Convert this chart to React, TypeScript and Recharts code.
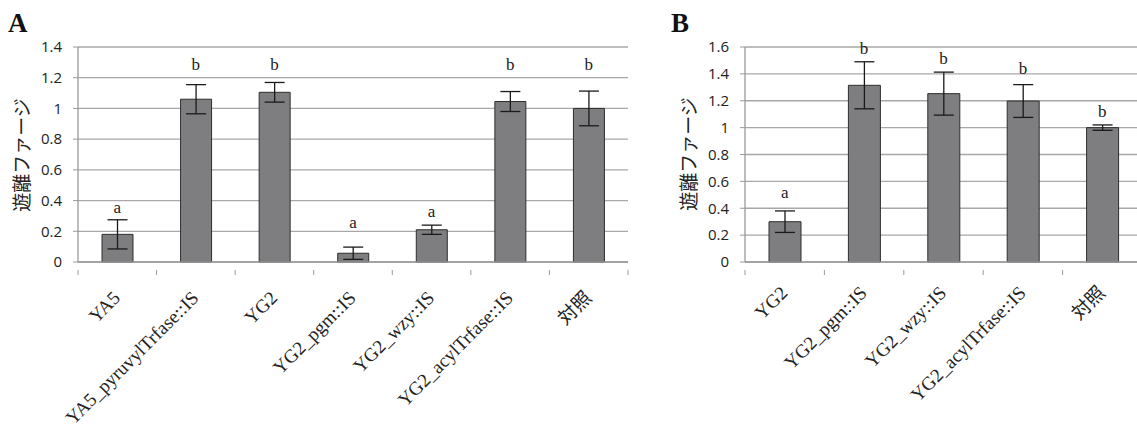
import React from 'react';
import { ComposedChart, Bar, ErrorBar, Scatter, XAxis, YAxis, CartesianGrid } from 'recharts';

const catsA = ['YA5', 'YA5_pyruvylTrfase::IS', 'YG2', 'YG2_pgm::IS', 'YG2_wzy::IS', 'YG2_acylTrfase::IS', '対照'];
const valsA = [0.18, 1.06, 1.105, 0.057, 0.21, 1.045, 1.0];
const errA = [0.095, 0.095, 0.064, 0.04, 0.03, 0.065, 0.113];
const lettersA = ['a', 'b', 'b', 'a', 'a', 'b', 'b'];
const letterYA = [0.32, 1.25, 1.25, 0.22, 0.29, 1.25, 1.25];
const ticksA = [0, 0.2, 0.4, 0.6, 0.8, 1, 1.2, 1.4];

const catsB = ['YG2', 'YG2_pgm::IS', 'YG2_wzy::IS', 'YG2_acylTrfase::IS', '対照'];
const valsB = [0.3, 1.315, 1.253, 1.198, 1.0];
const errB = [0.08, 0.175, 0.16, 0.122, 0.02];
const lettersB = ['a', 'b', 'b', 'b', 'b'];
const letterYB = [0.48, 1.55, 1.475, 1.4, 1.08];
const ticksB = [0, 0.2, 0.4, 0.6, 0.8, 1, 1.2, 1.4, 1.6];

const dataA = catsA.map((c, i) => ({ name: c, v: valsA[i], e: errA[i], l: lettersA[i], ly: letterYA[i] }));
const dataB = catsB.map((c, i) => ({ name: c, v: valsB[i], e: errB[i], l: lettersB[i], ly: letterYB[i] }));

const AXIS = '#9a9a9a';
const GRID = '#a8a8a8';

const makeTick = (bw: number, n: number, dx: number, dy: number) => (props: any) => {
  const { x, y, payload, index } = props;
  const tx = x + dx;
  const ty = y + dy;
  return (
    <g>
      <line x1={x - bw / 2} x2={x - bw / 2} y1={y} y2={y + 5} stroke={AXIS} />
      {index === n - 1 && <line x1={x + bw / 2} x2={x + bw / 2} y1={y} y2={y + 5} stroke={AXIS} />}
      <text
        x={tx}
        y={ty}
        transform={`rotate(-45, ${tx}, ${ty})`}
        textAnchor="end"
        fontFamily="'Liberation Serif', 'Noto Sans CJK JP', serif"
        fontSize={19}
        fill="#222"
      >
        {payload.value}
      </text>
    </g>
  );
};

const LetterShape = (props: any) => {
  const { cx, cy, payload } = props;
  return (
    <text x={cx} y={cy} textAnchor="middle" fontFamily="'Liberation Serif', serif" fontSize={17} fill="#222">
      {payload.l}
    </text>
  );
};

const fmt = (v: number) => String(Math.round(v * 10) / 10);

function Panel(props: {
  data: any[];
  width: number;
  marginLeft: number;
  marginRight: number;
  domainMax: number;
  ticks: number[];
  barSize: number;
  dx: number;
  dy: number;
}) {
  const { data, width, marginLeft, marginRight, domainMax, ticks, barSize, dx, dy } = props;
  const yW = 60;
  const plotW = width - marginLeft - marginRight - yW;
  const bw = plotW / data.length;
  return (
    <ComposedChart
      width={width}
      height={430}
      data={data}
      margin={{ top: 47, right: marginRight, bottom: 18, left: marginLeft }}
      barCategoryGap={0}
    >
      <CartesianGrid vertical={false} stroke={GRID} strokeWidth={1.3} />
      <XAxis
        dataKey="name"
        height={150}
        tickLine={false}
        axisLine={{ stroke: AXIS, strokeWidth: 1.3 }}
        interval={0}
        tick={makeTick(bw, data.length, dx, dy)}
      />
      <YAxis
        width={yW}
        domain={[0, domainMax]}
        ticks={ticks}
        interval={0}
        tickFormatter={fmt}
        tickSize={5}
        tickMargin={11}
        tickLine={{ stroke: AXIS }}
        axisLine={{ stroke: AXIS, strokeWidth: 1.3 }}
        tick={{ fontFamily: "'Open Sans', sans-serif", fontSize: 15, fill: '#222' }}
      />
      <Bar dataKey="v" fill="#7e7e80" stroke="#2e2e2e" strokeWidth={1} barSize={barSize} isAnimationActive={false}>
        <ErrorBar dataKey="e" width={10} stroke="#1a1a1a" strokeWidth={1.3} />
      </Bar>
      <Scatter dataKey="ly" shape={<LetterShape />} isAnimationActive={false} />
    </ComposedChart>
  );
}

const yLabelStyle: React.CSSProperties = {
  position: 'absolute',
  fontFamily: "'Noto Sans CJK JP', sans-serif",
  fontSize: 19,
  color: '#222',
  whiteSpace: 'nowrap',
  transform: 'translate(-50%, -50%) rotate(-90deg)',
  lineHeight: 1,
};

const panelLetter: React.CSSProperties = {
  position: 'absolute',
  fontFamily: "'Liberation Serif', serif",
  fontWeight: 'bold',
  fontSize: 27,
  color: '#111',
  lineHeight: 1,
};

export default function App() {
  return (
    <div style={{ position: 'absolute', left: 0, top: 0, width: 1137, height: 430, overflow: 'hidden', background: '#fff' }}>
      <div style={{ position: 'absolute', left: 0, top: 0 }}>
        <Panel data={dataA} width={640} marginLeft={18} marginRight={12} domainMax={1.4} ticks={ticksA} barSize={31} dx={4} dy={29} />
      </div>
      <div style={{ position: 'absolute', left: 640, top: 0 }}>
        <Panel data={dataB} width={502} marginLeft={45} marginRight={0} domainMax={1.6} ticks={ticksB} barSize={32} dx={4} dy={24} />
      </div>
      <div style={{ ...panelLetter, left: 8, top: 10 }}>A</div>
      <div style={{ ...panelLetter, left: 671, top: 10 }}>B</div>
      <div style={{ ...yLabelStyle, left: 20, top: 155 }}>遊離ファージ</div>
      <div style={{ ...yLabelStyle, left: 687, top: 154 }}>遊離ファージ</div>
    </div>
  );
}
